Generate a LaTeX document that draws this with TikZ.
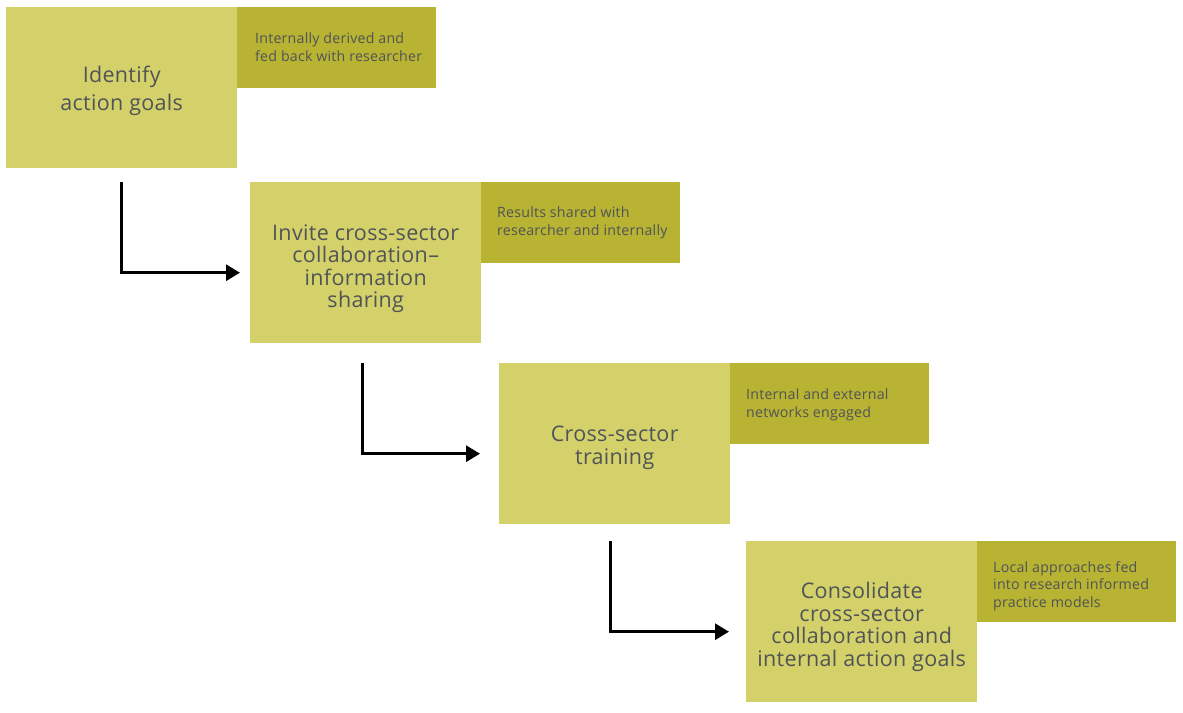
\documentclass[tikz,border=0pt]{standalone}
\usepackage{fontspec}
\setmainfont{Open Sans}[LetterSpace=1.5]
\usetikzlibrary{calc,arrows.meta}
\definecolor{mainc}{HTML}{D4D16B}
\definecolor{sidec}{HTML}{B8B332}
\definecolor{txt}{HTML}{4F5456}
\begin{document}
\begin{tikzpicture}[x=1pt,y=-1pt,
  mainbox/.style={fill=mainc, minimum width=231pt, minimum height=161pt, inner sep=0pt, anchor=north west},
  maintext/.style={align=center, inner sep=0pt, text=txt, font=\fontsize{21.5}{22.5}\selectfont},
  sidebox/.style={fill=sidec, minimum width=199pt, minimum height=81pt, inner sep=0pt, anchor=north west},
  sidetext/.style={anchor=west, align=left, inner sep=0pt, text=txt, font=\fontsize{14.2}{17.8}\selectfont},
  arr/.style={draw=black, line width=3pt, -{Triangle[length=14pt,width=16pt]}}]
\useasboundingbox (0,0) rectangle (1183,712);
% boxes
\node[mainbox] (b1) at (6,7) {};
\node[maintext, font=\fontsize{21.5}{28.5}\selectfont] (m1) at ($(b1.center)+(0,3)$) {Identify\\action goals};
\node[sidebox] (s1) at (237,7) {};
\node[sidetext] (t1) at ($(s1.west)+(18,-0.5)$) {Internally derived and\\fed back with researcher};

\node[mainbox] (b2) at (250,182) {};
\node[maintext] (m2) at ($(b2.center)+(0,6)$) {Invite cross-sector\\collaboration--\\information\\sharing};
\node[sidebox] (s2) at (481,182) {};
\node[sidetext] (t2) at ($(s2.west)+(16,0.5)$) {Results shared with\\researcher and internally};

\node[mainbox] (b3) at (499,363) {};
\node[maintext] (m3) at ($(b3.center)+(0,4)$) {Cross-sector\\training};
\node[sidebox] (s3) at (730,363) {};
\node[sidetext] (t3) at ($(s3.west)+(16,1)$) {Internal and external\\networks engaged};

\node[mainbox] (b4) at (746,541) {};
\node[maintext] (m4) at ($(b4.center)+(0,5)$) {Consolidate\\cross-sector\\collaboration and\\internal action goals};
\node[sidebox] (s4) at (977,541) {};
\node[sidetext] (t4) at ($(s4.west)+(16,4.5)$) {Local approaches fed\\into research informed\\practice models};

% connectors
\coordinate (a1) at ($(b1.south west)+(115,14)$);
\coordinate (e1) at ($(b2.west)+(-10,10)$);
\draw[arr] (a1) |- (e1);
\coordinate (a2) at ($(b2.south west)+(112,20)$);
\coordinate (e2) at ($(b3.west)+(-19,10)$);
\draw[arr] (a2) |- (e2);
\coordinate (a3) at ($(b3.south west)+(111,17)$);
\coordinate (e3) at ($(b4.west)+(-17,10)$);
\draw[arr] (a3) |- (e3);
\end{tikzpicture}
\end{document}
